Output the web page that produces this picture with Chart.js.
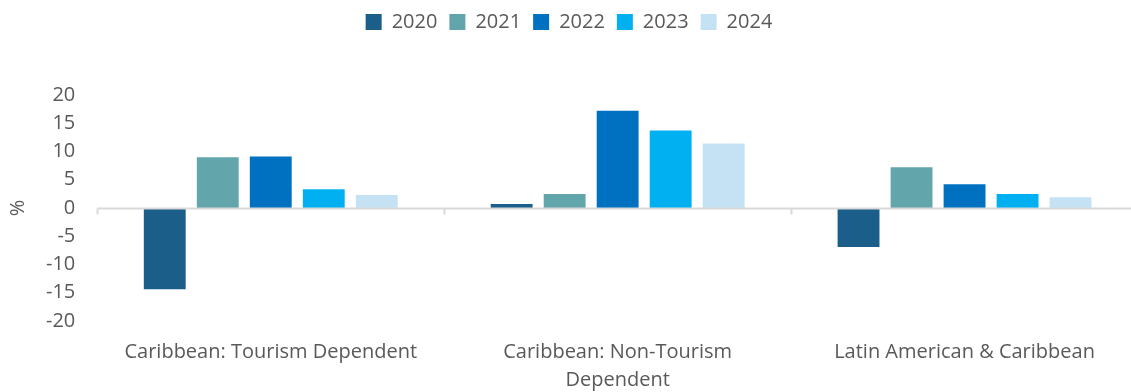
<!DOCTYPE html>
<html>
<head>
<meta charset="utf-8">
<script src="https://cdn.jsdelivr.net/npm/chart.js@4"></script>
<style>
  html, body { margin: 0; padding: 0; background: #fff; overflow: hidden; }
  #wrap { width: 1142px; height: 392px; }
</style>
</head>
<body>
<div id="wrap"><canvas id="grafico"></canvas></div>
<script>
const categories = [
    'Caribbean: Tourism Dependent',
    ['Caribbean: Non-Tourism', 'Dependent'],
    'Latin American & Caribbean'
];
const years = ['2020', '2021', '2022', '2023', '2024'];
const values2020 = [-14.4, 0.7, -6.9];
const values2021 = [9.0, 2.5, 7.2];
const values2022 = [9.1, 17.2, 4.2];
const values2023 = [3.3, 13.7, 2.5];
const values2024 = [2.3, 11.4, 1.9];
const colors = ['#1B5E8A', '#62A6AB', '#0070C0', '#00B0F0', '#C5E2F5'];

const series = [values2020, values2021, values2022, values2023, values2024];
const textColor = '#595959';
const fontFamily = "'Open Sans', 'Liberation Sans', sans-serif";

// zero line with small tick marks between the groups
const zeroTicks = {
    id: 'zeroTicks',
    afterDatasetsDraw(chart) {
        const x = chart.scales.x, y = chart.scales.y;
        const y0 = Math.round(y.getPixelForValue(0)) + 0.5;
        const c = chart.ctx;
        c.save();
        c.strokeStyle = '#d9d9d9';
        c.lineWidth = 2;
        c.beginPath();
        c.moveTo(x.left, y0);
        c.lineTo(x.right, y0);
        for (let i = 0; i <= categories.length; i++) {
            const px = Math.round(x.left + (x.right - x.left) * i / categories.length) + 0.5;
            c.moveTo(px, y0);
            c.lineTo(px, y0 + 6);
        }
        c.stroke();
        c.restore();
    }
};

// extra space under the legend
const legendGap = {
    id: 'legendGap',
    beforeInit(chart) {
        const fit = chart.legend.fit;
        chart.legend.fit = function () {
            fit.bind(chart.legend)();
            this.height += 53;
        };
    }
};

new Chart(document.getElementById('grafico'), {
    type: 'bar',
    data: {
        labels: categories,
        datasets: years.map((yr, i) => ({
            label: yr,
            data: series[i],
            backgroundColor: colors[i],
            barPercentage: 0.79,
            categoryPercentage: 0.764
        }))
    },
    options: {
        responsive: true,
        maintainAspectRatio: false,
        animation: false,
        layout: { padding: { left: 0, right: 4, top: 0, bottom: 0 } },
        plugins: {
            legend: {
                position: 'top',
                labels: {
                    boxWidth: 16,
                    boxHeight: 16,
                    padding: 12,
                    color: textColor,
                    font: { family: fontFamily, size: 20 }
                }
            },
            tooltip: { enabled: false }
        },
        scales: {
            x: {
                afterFit(scale) { scale.height = 71; },
                grid: { display: false, drawTicks: false },
                border: { display: false },
                ticks: {
                    color: textColor,
                    padding: 17,
                    maxRotation: 0,
                    font: { family: fontFamily, size: 20, lineHeight: 1.4 }
                }
            },
            y: {
                min: -20,
                max: 20,
                ticks: {
                    stepSize: 5,
                    autoSkip: false,
                    color: textColor,
                    padding: 22,
                    font: { family: fontFamily, size: 20 }
                },
                grid: { display: false, drawTicks: false },
                border: { display: false },
                title: {
                    display: true,
                    text: '%',
                    color: textColor,
                    padding: { top: 6, bottom: -6 },
                    font: { family: fontFamily, size: 20 }
                }
            }
        }
    },
    plugins: [zeroTicks, legendGap]
});
</script>
</body>
</html>
